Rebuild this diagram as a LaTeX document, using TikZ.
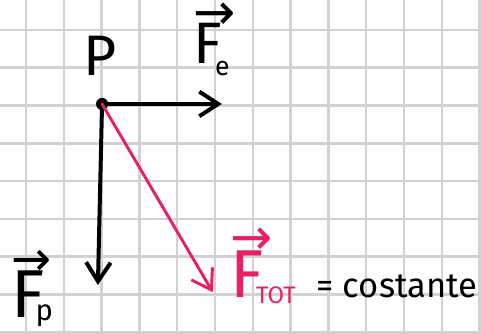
\documentclass[tikz,border=0pt]{standalone}
\usepackage{fontspec}
\setmainfont{Fira Sans}
\newfontfamily\arrowfont{DejaVu Sans}
\usetikzlibrary{arrows.meta}
\definecolor{gridgray}{RGB}{210,210,210}
\definecolor{totpink}{RGB}{233,30,99}
% small arrow set over a letter (raise, size)
\newcommand{\vecmark}[2]{\makebox[0pt][l]{\raisebox{#1}{\arrowfont\fontsize{#2}{#2}\selectfont →}}}

\begin{document}
\begin{tikzpicture}[>={Straight Barb[length=5mm, width=6.5mm]}, line cap=round, line join=round,
    force/.style={->, line width=3pt}, lbl/.style={inner sep=0pt}]
  \useasboundingbox (0,0) rectangle (12.725,8.81);
  \clip (0,0) rectangle (12.725,8.81);
  \fill[white] (0,0) rectangle (12.725,8.81);

  % squared paper
  \draw[gridgray, line width=1.9pt, shift={(0.688,0.02)}] (-1,-1) grid (13,10);

  % point P and arrow tips
  \node[fill, circle, inner sep=0pt, minimum size=3.2mm] (p) at (2.70,6.06) {};
  \coordinate (feTip) at (5.87,6.06);
  \coordinate (fpTip) at (2.59,1.27);
  \coordinate (ftotTip) at (5.63,1.08);

  \draw[force] (p.center) -- (feTip);
  \draw[force] (p.center) -- (fpTip);
  \draw[force, line width=2.2pt, totpink] (p.center) -- (ftotTip);

  % labels
  \node[lbl, font=\fontsize{43}{43}\selectfont] (pLabel) at (2.65,7.33) {P};
  \node[lbl, anchor=base west, font=\fontsize{44}{44}\selectfont] (feLabel) at (5.10,7.14)
    {\vecmark{25pt}{38pt}F\hspace{-5pt}\raisebox{-9pt}{\fontsize{20}{20}\selectfont e}};
  \node[lbl, anchor=base west, font=\fontsize{51}{51}\selectfont] (fpLabel) at (0.30,0.40)
    {\vecmark{32pt}{36pt}F\hspace{-7pt}\raisebox{-2pt}{\fontsize{22}{22}\selectfont p}};
  \node[lbl, anchor=base west, font=\fontsize{51}{51}\selectfont, text=totpink] (ftotLabel) at (6.10,0.95)
    {\vecmark{32pt}{38pt}F\hspace{-6pt}\raisebox{-4.5pt}{\fontsize{18}{18}\selectfont TOT}};
  \node[lbl, anchor=base, font=\fontsize{26}{26}\selectfont] (constLabel) at (10.50,0.95) {= costante};
\end{tikzpicture}
\end{document}
